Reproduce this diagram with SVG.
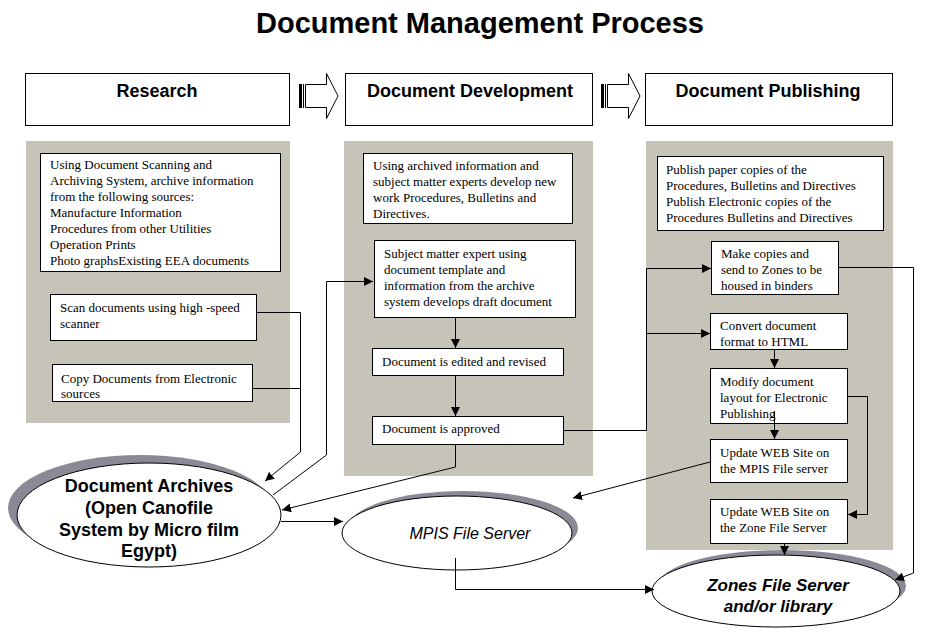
<svg xmlns="http://www.w3.org/2000/svg" width="925" height="637" viewBox="0 0 925 637">
<style>
.panel{fill:#c6c4b9;}
.hdr{fill:#fff;stroke:#000;stroke-width:1;}
.box{fill:#fff;stroke:#000;stroke-width:1;}
.t{font-family:"Liberation Serif","Times New Roman",serif;font-size:13px;fill:#000;}
.h{font-family:"Liberation Sans",Arial,sans-serif;font-size:18px;font-weight:bold;text-anchor:middle;fill:#000;}
.e{fill:#fff;stroke:#000;stroke-width:1;}
.sh{fill:#8a8a96;}
.c{fill:none;stroke:#000;stroke-width:1;}
.ba{fill:#fff;stroke:#000;stroke-width:1;}
</style>
<defs>
<marker id="ah" viewBox="0 0 10 10" refX="10" refY="5" markerWidth="9" markerHeight="9" markerUnits="userSpaceOnUse" orient="auto">
<path d="M0,0 L10,5 L0,10 z" fill="#000"/>
</marker>
</defs>
<rect width="925" height="637" fill="#fff"/>
<text x="480" y="33" font-family="'Liberation Sans',Arial,sans-serif" font-size="29" font-weight="bold" text-anchor="middle">Document Management Process</text>

<!-- panels -->
<rect class="panel" x="26" y="141" width="264" height="282"/>
<rect class="panel" x="344" y="141" width="249" height="335"/>
<rect class="panel" x="646" y="141" width="247" height="409"/>

<!-- headers -->
<g id="hdr-research"><rect class="hdr" x="25.5" y="73.5" width="264" height="52"/><text class="h" x="157" y="97">Research</text></g>
<g id="hdr-development"><rect class="hdr" x="345.5" y="73.5" width="247" height="52"/><text class="h" x="470" y="97">Document Development</text></g>
<g id="hdr-publishing"><rect class="hdr" x="645.5" y="73.5" width="247" height="52"/><text class="h" x="768" y="97">Document Publishing</text></g>

<g id="blockarrow1">
<polygon class="ba" points="305.5,84.5 326.5,84.5 326.5,73.5 338,96 326.5,118.5 326.5,107.5 305.5,107.5"/>
<rect x="299" y="84" width="3" height="24" fill="#000"/>
<line x1="303.5" y1="84" x2="303.5" y2="108" stroke="#000"/>
</g>
<g id="blockarrow2" transform="translate(302,0)">
<polygon class="ba" points="305.5,84.5 326.5,84.5 326.5,73.5 338,96 326.5,118.5 326.5,107.5 305.5,107.5"/>
<rect x="299" y="84" width="3" height="24" fill="#000"/>
<line x1="303.5" y1="84" x2="303.5" y2="108" stroke="#000"/>
</g>

<!-- Research column -->
<g id="r-sources"><rect class="box" x="40.5" y="153.5" width="240" height="118" stroke-width="1.5"/>
<text class="t" x="50" y="169">Using Document Scanning and</text>
<text class="t" x="50" y="185">Archiving System, archive information</text>
<text class="t" x="50" y="201">from the following sources:</text>
<text class="t" x="50" y="217">Manufacture Information</text>
<text class="t" x="50" y="233">Procedures from other Utilities</text>
<text class="t" x="50" y="249">Operation Prints</text>
<text class="t" x="50" y="265">Photo graphsExisting EEA documents</text></g>
<g id="r-scan"><rect class="box" x="50.5" y="294.5" width="206" height="46"/>
<text class="t" x="60" y="312">Scan documents using high -speed</text>
<text class="t" x="60" y="328">scanner</text></g>
<g id="r-copy"><rect class="box" x="52.5" y="364.5" width="200" height="37"/>
<text class="t" x="61" y="383">Copy Documents from Electronic</text>
<text class="t" x="61" y="398">sources</text></g>

<!-- Development column -->
<g id="d-intro"><rect class="box" x="363.5" y="153.5" width="209" height="70"/>
<text class="t" x="373" y="170">Using archived information and</text>
<text class="t" x="373" y="186">subject matter experts develop new</text>
<text class="t" x="373" y="202">work Procedures, Bulletins and</text>
<text class="t" x="373" y="218">Directives.</text></g>
<g id="d-draft"><rect class="box" x="374.5" y="240.5" width="201" height="77"/>
<text class="t" x="384" y="258">Subject matter expert using</text>
<text class="t" x="384" y="274">document template and</text>
<text class="t" x="384" y="290">information from the archive</text>
<text class="t" x="384" y="306">system develops draft document</text></g>
<g id="d-edited"><rect class="box" x="372.5" y="348.5" width="191" height="27"/>
<text class="t" x="382" y="366">Document is edited and revised</text></g>
<g id="d-approved"><rect class="box" x="372.5" y="416.5" width="191" height="28"/>
<text class="t" x="382" y="433">Document is approved</text></g>

<!-- Publishing column -->
<g id="p-intro"><rect class="box" x="657.5" y="156.5" width="226" height="74"/>
<text class="t" x="666" y="174">Publish paper copies of the</text>
<text class="t" x="666" y="190">Procedures, Bulletins and Directives</text>
<text class="t" x="666" y="206">Publish Electronic copies of the</text>
<text class="t" x="666" y="222">Procedures Bulletins and Directives</text></g>
<g id="p-copies"><rect class="box" x="711.5" y="241.5" width="127" height="53"/>
<text class="t" x="721" y="258">Make copies and</text>
<text class="t" x="721" y="274">send to Zones to be</text>
<text class="t" x="721" y="290">housed in binders</text></g>
<g id="p-convert"><rect class="box" x="710.5" y="313.5" width="137" height="36"/>
<text class="t" x="720" y="330">Convert document</text>
<text class="t" x="720" y="346">format to HTML</text></g>
<g id="p-modify"><rect class="box" x="710.5" y="368.5" width="137" height="55"/>
<text class="t" x="720" y="386">Modify document</text>
<text class="t" x="720" y="402">layout for Electronic</text>
<text class="t" x="720" y="418">Publishing</text></g>
<g id="p-mpisweb"><rect class="box" x="710.5" y="439.5" width="137" height="43"/>
<text class="t" x="720" y="457">Update WEB Site on</text>
<text class="t" x="720" y="473">the MPIS File server</text></g>
<g id="p-zoneweb"><rect class="box" x="710.5" y="499.5" width="137" height="44"/>
<text class="t" x="720" y="516">Update WEB Site on</text>
<text class="t" x="720" y="532">the Zone File Server</text></g>

<!-- Ellipses -->
<g id="archives">
<ellipse class="sh" cx="140" cy="508" rx="132" ry="53"/>
<ellipse class="e" cx="149" cy="515" rx="132" ry="52"/>
<text font-family="'Liberation Sans',Arial,sans-serif" font-size="18" font-weight="bold" text-anchor="middle" x="149" y="492">Document Archives</text>
<text font-family="'Liberation Sans',Arial,sans-serif" font-size="18" font-weight="bold" text-anchor="middle" x="149" y="514">(Open Canofile</text>
<text font-family="'Liberation Sans',Arial,sans-serif" font-size="18" font-weight="bold" text-anchor="middle" x="149" y="536">System by Micro film</text>
<text font-family="'Liberation Sans',Arial,sans-serif" font-size="18" font-weight="bold" text-anchor="middle" x="149" y="557">Egypt)</text>
</g>
<g id="mpis">
<ellipse class="sh" cx="463" cy="528" rx="115" ry="37"/>
<ellipse class="e" cx="457" cy="533" rx="115" ry="37"/>
<text font-family="'Liberation Sans',Arial,sans-serif" font-size="16" font-style="italic" text-anchor="middle" x="470" y="539">MPIS File Server</text>
</g>
<g id="zones">
<ellipse class="sh" cx="782" cy="586" rx="124" ry="36"/>
<ellipse class="e" cx="776" cy="591" rx="124" ry="36"/>
<text font-family="'Liberation Sans',Arial,sans-serif" font-size="17" font-weight="bold" font-style="italic" text-anchor="middle" x="778" y="591">Zones File Server</text>
<text font-family="'Liberation Sans',Arial,sans-serif" font-size="17" font-weight="bold" font-style="italic" text-anchor="middle" x="778" y="612">and/or library</text>
</g>

<!-- connectors -->
<g id="connectors">
<polyline class="c" points="256,312.5 300.5,312.5 300.5,452 265,481" marker-end="url(#ah)"/>
<polyline class="c" points="252,388.5 300.5,388.5"/>
<polyline class="c" points="273,495 326.5,455 326.5,281.5 373,281.5" marker-end="url(#ah)"/>
<line class="c" x1="455.5" y1="317" x2="455.5" y2="348" marker-end="url(#ah)"/>
<line class="c" x1="455.5" y1="375" x2="455.5" y2="416" marker-end="url(#ah)"/>
<polyline class="c" points="455.5,444 455.5,467 282,510" marker-end="url(#ah)"/>
<line class="c" x1="281" y1="521.5" x2="343" y2="521.5" marker-end="url(#ah)"/>
<polyline class="c" points="563,430.5 646.5,430.5 646.5,268.5 711,268.5" marker-end="url(#ah)"/>
<line class="c" x1="646.5" y1="333.5" x2="710" y2="333.5" marker-end="url(#ah)"/>
<polyline class="c" points="838,267.5 913.5,267.5 913.5,573 895,580" marker-end="url(#ah)"/>
<line class="c" x1="774.5" y1="349" x2="774.5" y2="368" marker-end="url(#ah)"/>
<line class="c" x1="774.5" y1="411" x2="774.5" y2="439" marker-end="url(#ah)"/>
<polyline class="c" points="847,396.5 867.5,396.5 867.5,514.5 848,514.5" marker-end="url(#ah)"/>
<line class="c" x1="710" y1="462" x2="573" y2="498" marker-end="url(#ah)"/>
<line class="c" x1="784.5" y1="543" x2="784.5" y2="555" marker-end="url(#ah)"/>
<polyline class="c" points="455.5,558 455.5,589.5 654,589.5" marker-end="url(#ah)"/>
</g>
</svg>
